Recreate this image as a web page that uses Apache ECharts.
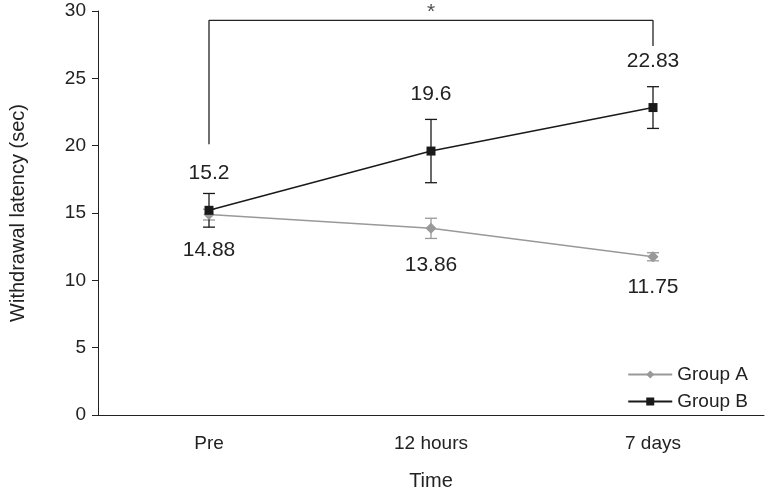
<!DOCTYPE html><html><head><meta charset="utf-8">
<script src="https://cdn.jsdelivr.net/npm/echarts@6/dist/echarts.min.js"></script>
<style>html,body{margin:0;background:#fff}#c{width:765px;height:496px}</style></head><body><div id="c"></div>
<script>
const categories=['Pre','12 hours','7 days'];
const groupA=[14.88,13.86,11.75];
const groupAErr=[0.4,0.75,0.3];
const groupB=[15.2,19.6,22.83];
const groupBErr=[1.25,2.35,1.55];
const yTicks=[0,5,10,15,20,25,30];
const bracket=[['Pre',20.1],['Pre',29.3],['7 days',29.3],['7 days',27.4]];
const font='"Liberation Sans", Arial, sans-serif';
const labBOff=[22,42,31];
const labAOff=[20,21,14];
function errSeries(vals,errs,color){
  return {type:'custom',silent:true,z:1,data:vals.map((v,i)=>[i,v-errs[i],v+errs[i]]),
    renderItem:(p,api)=>{const lo=api.coord([api.value(0),api.value(1)]),hi=api.coord([api.value(0),api.value(2)]);const w=6;
      const st={stroke:color,lineWidth:1.3};
      return {type:'group',children:[
        {type:'line',shape:{x1:lo[0],y1:lo[1],x2:hi[0],y2:hi[1]},style:st},
        {type:'line',shape:{x1:lo[0]-w,y1:lo[1],x2:lo[0]+w,y2:lo[1]},style:st},
        {type:'line',shape:{x1:hi[0]-w,y1:hi[1],x2:hi[0]+w,y2:hi[1]},style:st}]};}};
}
const ch=echarts.init(document.getElementById('c'));
ch.setOption({animation:false,textStyle:{fontFamily:font},
 grid:{left:89,right:1,top:11,bottom:75},
 xAxis:{type:'category',data:categories,boundaryGap:true,name:'Time',nameLocation:'middle',nameGap:56,
  nameTextStyle:{fontSize:20,color:'#222',fontFamily:font},
  axisLine:{lineStyle:{color:'#222'}},axisTick:{inside:false,length:6,lineStyle:{color:'#222'}},
  axisLabel:{fontSize:19,color:'#222',margin:19,fontFamily:font}},
 yAxis:{type:'value',min:0,max:30,interval:5,name:'Withdrawal latency (sec)',nameLocation:'middle',nameGap:70,
  nameTextStyle:{fontSize:20,color:'#222',fontFamily:font},
  axisLine:{show:true,lineStyle:{color:'#222'}},axisTick:{show:true,length:6,lineStyle:{color:'#222'}},splitLine:{show:false},
  axisLabel:{fontSize:19,color:'#222',margin:12,fontFamily:font,formatter:v=>yTicks.includes(v)?String(v):''}},
 legend:{orient:'vertical',right:12,bottom:80,itemWidth:44,itemHeight:10,itemGap:8,
  textStyle:{fontSize:19,color:'#222',fontFamily:font},data:['Group A','Group B']},
 series:[
  errSeries(groupA,groupAErr,'#999'),
  errSeries(groupB,groupBErr,'#1a1a1a'),
  {name:'Group A',type:'line',data:groupA.map((v,i)=>({value:v,label:{distance:labAOff[i]}})),symbol:'diamond',symbolSize:11,color:'#999',lineStyle:{width:1.5,color:'#999'},itemStyle:{color:'#999'},z:2,
   label:{show:true,position:'bottom',fontSize:21,color:'#222',fontFamily:font}},
  {name:'Group B',type:'line',data:groupB.map((v,i)=>({value:v,label:{distance:labBOff[i]}})),symbol:'rect',symbolSize:9,color:'#1a1a1a',lineStyle:{width:1.5,color:'#1a1a1a'},itemStyle:{color:'#1a1a1a'},z:3,
   label:{show:true,position:'top',fontSize:21,color:'#222',fontFamily:font}},
  {type:'line',data:bracket,symbol:'none',silent:true,lineStyle:{width:1.3,color:'#222'},z:1},
  {type:'scatter',data:[['12 hours',29.3]],symbolSize:0,silent:true,
   label:{show:true,formatter:'*',position:'top',distance:-2,fontSize:21,color:'#222'}}
 ]});
</script></body></html>
